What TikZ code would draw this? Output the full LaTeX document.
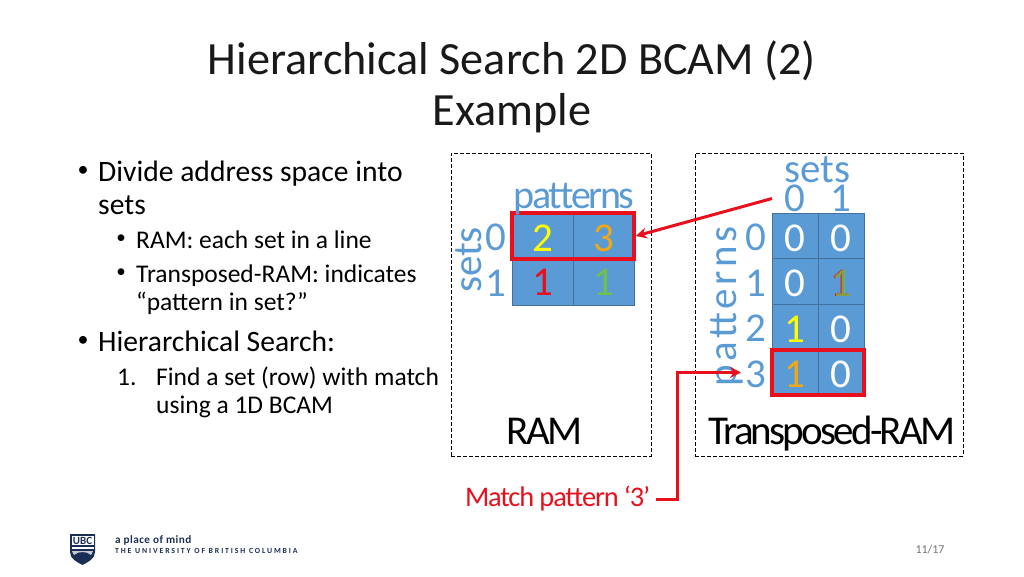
\documentclass[tikz,border=0pt]{standalone}
\usepackage{fontspec}
\usetikzlibrary{arrows.meta}
\setmainfont{Carlito}
\definecolor{cellblue}{HTML}{5B9BD5}
\definecolor{celledge}{HTML}{41719C}
\definecolor{axisblue}{HTML}{5B9BD5}
\definecolor{hlred}{HTML}{E8101C}
\definecolor{cyellow}{HTML}{FFFF00}
\definecolor{corange}{HTML}{F0A818}
\definecolor{cgreen}{HTML}{70C050}
\definecolor{ubcnavy}{HTML}{1B2F55}
\tikzset{
  x=1pt,y=-1pt,
  txt/.style={inner sep=0pt,outer sep=0pt,font=\fontsize{26}{30}\selectfont,text=#1},
  txt/.default=black,
  titletxt/.style={inner sep=0pt,anchor=base,text=black!90,font=\fontsize{46.2}{46}\selectfont},
  bodytxt/.style={inner sep=0pt,anchor=base west,text=black,font=\fontsize{29.6}{32}\selectfont},
  subtxt/.style={inner sep=0pt,anchor=base west,text=black,font=\fontsize{25.5}{28}\selectfont},
  bulletbig/.style={inner sep=0pt,text=black,font=\fontsize{22}{22}\selectfont},
  bulletsmall/.style={inner sep=0pt,text=black,font=\fontsize{19}{19}\selectfont},
  cell/.style={draw=celledge,line width=0.8pt,fill=cellblue,inner sep=0pt,text=#1,text height=30pt,text depth=0pt,font=\fontsize{41}{41}\selectfont},
  cell/.default=white,
  axis/.style={inner sep=0pt,text=axisblue,font=\fontsize{41}{41}\selectfont},
  frame/.style={draw=black,line width=1pt,dash pattern=on 4pt off 2pt,inner sep=0pt},
  hlbox/.style={draw=hlred,line width=3.6pt,inner sep=0pt},
  redline/.style={draw=hlred,line width=3pt},
  redarrow/.style={redline,-{Stealth[length=11pt,width=11pt]}},
}
\begin{document}
\begin{tikzpicture}
\useasboundingbox (0,0) rectangle (1024,576);
% title
\node[titletxt] (title1) at (512,74) {Hierarchical Search 2D BCAM (2)};
\node[titletxt] (title2) at (512,125) {Example};
% bullets
\node[bulletbig] (b1) at (83,171) {•};
\node[bodytxt] (t1a) at (98,181.5) {Divide address space into};
\node[bodytxt] (t1b) at (98,214) {sets};
\node[bulletsmall] (b2) at (121,239) {•};
\node[subtxt] (t2) at (136,248) {RAM: each set in a line};
\node[bulletsmall] (b3) at (121,273) {•};
\node[subtxt] (t3a) at (136,282) {Transposed-RAM: indicates};
\node[subtxt] (t3b) at (136,310) {“pattern in set?”};
\node[bulletbig] (b4) at (83,341) {•};
\node[bodytxt] (t4) at (98,351) {Hierarchical Search:};
\node[subtxt] (n1) at (117,385) {1.};
\node[subtxt] (t5a) at (156,385) {Find a set (row) with match};
\node[subtxt] (t5b) at (156,413) {using a 1D BCAM};
% frames
\node[frame,minimum width=200pt,minimum height=303pt] (ramframe) at (551,304.5) {};
\node[frame,minimum width=268pt,minimum height=303pt] (tramframe) at (829,304.5) {};
% RAM cells
\foreach \nm/\cx/\cy/\w/\h/\col/\val in {
 ra/542.5/236/61/46/cyellow/2,
 rb/603.5/236/61/46/corange/3}{
  \node[cell=\col,minimum width=\w pt,minimum height=\h pt] (\nm) at (\cx,\cy) {\val};
}
\foreach \nm/\cx/\cy/\w/\h/\col/\val in {
 rc/542.5/282.5/61/46/hlred/1,
 rd/603.5/282.5/61/46/cgreen/1}{
  \node[cell=\col,minimum width=\w pt,minimum height=\h pt,text height=26pt] (\nm) at (\cx,\cy) {\val};
}
\node[hlbox,minimum width=122pt,minimum height=46pt] (ramhl) at (573,236) {};
\node[axis,anchor=base,font=\fontsize{40}{40}\selectfont\addfontfeature{LetterSpace=-6}] (rampat) at (574,208.5) {patterns};
\node[axis,anchor=base] (r0) at (496,250.5) {0};
\node[axis,anchor=base] (r1) at (496,296.5) {1};
\node[axis,anchor=base,rotate=90] (ramsets) at (481,260) {sets};
\node[txt,anchor=base,font=\fontsize{41}{41}\selectfont\addfontfeature{LetterSpace=-6.5}] (ramlabel) at (544.5,444) {RAM};
% Transposed cells
\foreach \nm/\cx/\cy/\col/\val in {
 ta/795/236/white/0,
 tb/841/236/white/0,
 tc/795/281.5/white/0,
 te/795/327/cyellow/1,
 tf/841/327/white/0,
 tg/795/372.5/corange/1,
 th/841/372.5/white/0}{
  \node[cell=\col,minimum width=46pt,minimum height=45.5pt] (\nm) at (\cx,\cy) {\val};
}
\node[cell=hlred,minimum width=46pt,minimum height=45.5pt] (td) at (841,281.5) {1};
\node[inner sep=0pt,text=cgreen,font=\fontsize{41}{41}\selectfont,opacity=0.8,text height=30pt,text depth=0pt] (tdo) at (842,281.5) {1};
\node[hlbox,minimum width=92pt,minimum height=45.5pt] (tramhl) at (818,372.5) {};
\node[axis,anchor=base] (tsets) at (817,182.5) {sets};
\node[axis,anchor=base] (ts0) at (795,211.5) {0};
\node[axis,anchor=base] (ts1) at (841,211.5) {1};
\node[axis,anchor=base] (tp0) at (756,250.5) {0};
\node[axis,anchor=base] (tp1) at (756,296) {1};
\node[axis,anchor=base] (tp2) at (756,341) {2};
\node[axis,anchor=base] (tp3) at (756,387) {3};
\node[axis,anchor=base,rotate=90,font=\fontsize{41}{41}\selectfont\addfontfeature{LetterSpace=9}] (tpat) at (736,306.5) {patterns};
\node[txt,anchor=base,font=\fontsize{41}{41}\selectfont\addfontfeature{LetterSpace=-6.8}] (tramlabel) at (832,444) {Transposed-RAM};
% connectors
\coordinate (fromsets) at (772,198.5);
\draw[redarrow] (fromsets) -- (ramhl.east);
\node[inner sep=0pt,anchor=base east,text=hlred,font=\fontsize{28.4}{28}\selectfont\addfontfeature{LetterSpace=-4}] (match) at (650.5,506) {Match pattern ‘3’};
\coordinate (matchout) at (656,499);
\coordinate (bendb) at (677,499);
\coordinate (bendt) at (677,372.5);
\coordinate (tipthree) at (741,372.5);
\draw[redarrow] (matchout) -- (bendb) -- (bendt) -- (tipthree);
% logo
\path[fill=ubcnavy] (70,534) -- (95,534) -- (95,552) .. controls (95,559) and (88,562) .. (82.5,565) .. controls (77,562) and (70,559) .. (70,552) -- cycle;
\path[fill=white] (71.5,535.5) -- (93.5,535.5) -- (93.5,545) -- (71.5,545) -- cycle;
\node[inner sep=0pt,text=ubcnavy,font=\bfseries\fontsize{11}{11}\selectfont] (ubc) at (82.5,540.5) {UBC};
\path[fill=white] (71.5,547) -- (93.5,547) -- (93.5,549) -- (71.5,549) -- cycle;
\path[fill=white!75!ubcnavy] (72,551) -- (93,551) -- (91,555) .. controls (87,551) and (78,551) .. (74,555) -- cycle;
\node[inner sep=0pt,anchor=base west,text=ubcnavy,font=\bfseries\fontsize{11.2}{11}\selectfont\addfontfeature{LetterSpace=4}] (place) at (115,543) {a place of mind};
\node[inner sep=0pt,anchor=base west,text=ubcnavy,font=\bfseries\fontsize{7.8}{8}\selectfont\addfontfeature{LetterSpace=24}] (univ) at (115,553.5) {THE UNIVERSITY OF BRITISH COLUMBIA};
\node[inner sep=0pt,anchor=base,text=black!55,font=\fontsize{12}{12}\selectfont] (pg) at (930,553) {11/17};
\end{tikzpicture}
\end{document}
